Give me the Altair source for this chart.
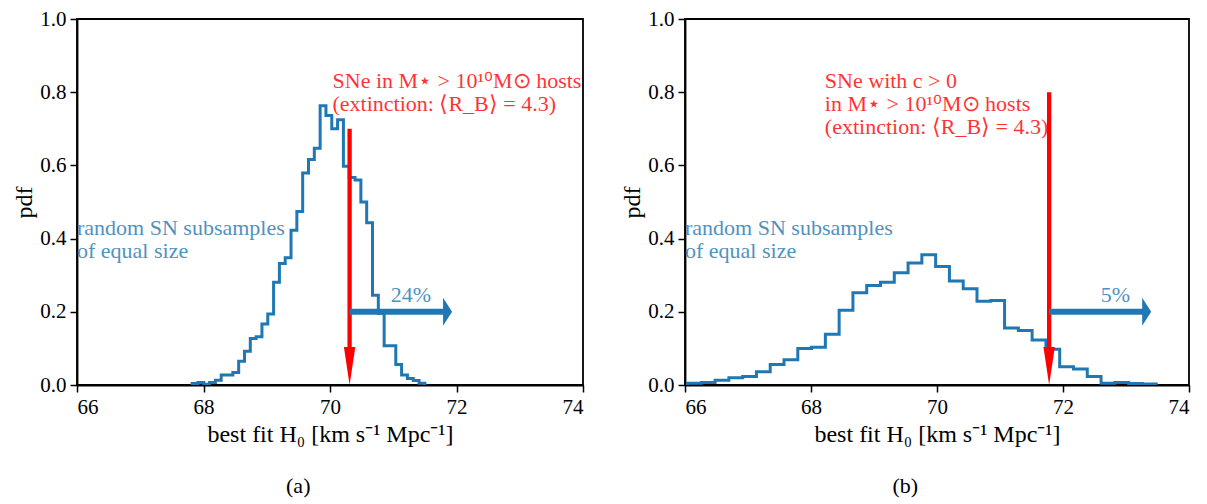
import altair as alt
import pandas as pd

# ---------------- data ----------------
x_ticks = [66, 68, 70, 72, 74]
y_ticks = [0.0, 0.2, 0.4, 0.6, 0.8, 1.0]

# panel (a): histogram of best-fit H0 for random subsamples
a_bin_start = 67.82
a_bin_width = 0.092
a_pdf = [0.004, 0.007, 0.002, 0.007, 0.013,
         0.027, 0.027, 0.034, 0.065, 0.092,
         0.127, 0.132, 0.167, 0.194, 0.281,
         0.332, 0.348, 0.423, 0.474, 0.579,
         0.616, 0.647, 0.763, 0.736, 0.700,
         0.725, 0.598, 0.567, 0.560, 0.500,
         0.443, 0.245, 0.196, 0.107, 0.107,
         0.056, 0.027, 0.018, 0.012, 0.005]
a_h0 = 70.31          # value for the SN subset (red arrow)
a_arrow_top = 0.70
a_frac_y = 0.20
a_frac_end = 71.93
a_frac_text = "24%"
a_frac_text_x = 71.28
a_red_lines = ["SNe in M⋆ > 10¹⁰M⊙ hosts", "(extinction: ⟨R_B⟩ = 4.3)"]
a_red_x = 70.04

# panel (b)
b_bin_start = 66.04
b_bin_width = 0.2188
b_pdf = [0.005, 0.007, 0.013, 0.020, 0.023,
         0.036, 0.056, 0.069, 0.100, 0.103,
         0.139, 0.204, 0.252, 0.272, 0.281,
         0.307, 0.333, 0.356, 0.324, 0.284,
         0.263, 0.229, 0.231, 0.156, 0.149,
         0.123, 0.098, 0.050, 0.044, 0.023,
         0.005, 0.007, 0.004, 0.003]
b_h0 = 71.78
b_arrow_top = 0.80
b_frac_y = 0.20
b_frac_end = 73.40
b_frac_text = "5%"
b_frac_text_x = 72.83
b_red_lines = ["SNe with c > 0", "in M⋆ > 10¹⁰M⊙ hosts", "(extinction: ⟨R_B⟩ = 4.3)"]
b_red_x = 68.22

blue_lines = ["random SN subsamples", "of equal size"]
blue_x = 66.0
blue_y = 0.409
red_y = 0.811
red_head_len = 0.10
blue_head_len = 0.13

FONT = "Liberation Serif"
BLUE = "#1f77b4"
RED = "#ff0000"

xscale = alt.Scale(domain=[66, 74], nice=False, zero=False)
yscale = alt.Scale(domain=[0, 1], nice=False, zero=False)
xax = alt.Axis(values=x_ticks, format="d", title="best fit H₀ [km s⁻¹ Mpc⁻¹]",
               titlePadding=5)
yax = alt.Axis(values=y_ticks, format=".1f", title="pdf", titlePadding=3)

RED_HEAD = "M -0.3 -2 L 0.3 -2 L 0 0 Z"
BLUE_HEAD = "M -2 -3.1 L 0 0 L -2 3.1 Z"


def X(f):
    return alt.X(f, scale=xscale, axis=xax)


def Y(f):
    return alt.Y(f, scale=yscale, axis=yax)


def panel(bin_start, bin_width, pdf, h0, arrow_top, frac_y, frac_end,
          frac_text, frac_text_x, red_lines, red_x, caption, width):
    edges = [bin_start + i * bin_width for i in range(len(pdf) + 1)]
    xs = [edges[0]] + edges[:-1] + [edges[-1]]
    ys = [0.0] + list(pdf) + [0.0]
    hist = pd.DataFrame({"x": xs, "y": ys, "k": list(range(len(xs)))})

    line = alt.Chart(hist).mark_line(
        interpolate="step-after", color=BLUE, strokeWidth=3, clip=True
    ).encode(x=X("x:Q"), y=Y("y:Q"), order="k:Q")

    red_df = pd.DataFrame({"x": [h0], "y": [arrow_top],
                           "base": [red_head_len], "tip": [0.0]})
    red_shaft = alt.Chart(red_df).mark_rule(color=RED, strokeWidth=4.3).encode(
        x=X("x:Q"), y=Y("y:Q"), y2="base:Q")
    red_head = alt.Chart(red_df).mark_point(
        shape=RED_HEAD, filled=True, size=1444, color=RED, opacity=1, strokeWidth=0
    ).encode(x=X("x:Q"), y=Y("tip:Q"))

    blue_df = pd.DataFrame({"x": [h0], "base": [frac_end - blue_head_len],
                            "tip": [frac_end], "y": [frac_y]})
    blue_shaft = alt.Chart(blue_df).mark_rule(color=BLUE, strokeWidth=6).encode(
        x=X("x:Q"), x2="base:Q", y=Y("y:Q"))
    blue_head = alt.Chart(blue_df).mark_point(
        shape=BLUE_HEAD, filled=True, size=81, color=BLUE, opacity=1, strokeWidth=0
    ).encode(x=X("tip:Q"), y=Y("y:Q"))

    frac_df = pd.DataFrame({"x": [frac_text_x], "y": [frac_y + 0.027], "t": [frac_text]})
    frac = alt.Chart(frac_df).mark_text(
        font=FONT, fontSize=22, color=BLUE, opacity=0.8, align="center",
        baseline="alphabetic").encode(x=X("x:Q"), y=Y("y:Q"), text="t:N")

    blue_df2 = pd.DataFrame({"x": [blue_x], "y": [blue_y], "t": ["\n".join(blue_lines)]})
    blue_txt = alt.Chart(blue_df2).mark_text(
        font=FONT, fontSize=22, color=BLUE, opacity=0.8, align="left",
        baseline="alphabetic", lineBreak="\n", lineHeight=22.7
    ).encode(x=X("x:Q"), y=Y("y:Q"), text="t:N")

    red_df2 = pd.DataFrame({"x": [red_x], "y": [red_y], "t": ["\n".join(red_lines)]})
    red_txt = alt.Chart(red_df2).mark_text(
        font=FONT, fontSize=22, color=RED, opacity=0.8, align="left",
        baseline="alphabetic", lineBreak="\n", lineHeight=22.7
    ).encode(x=X("x:Q"), y=Y("y:Q"), text="t:N")

    return alt.layer(line, red_shaft, red_head, blue_shaft, blue_head,
                     frac, blue_txt, red_txt).properties(
        width=width, height=366,
        title=alt.TitleParams(caption, orient="bottom", anchor="middle",
                              frame="bounds", offset=30, font=FONT,
                              fontSize=22, fontWeight="normal", color="black"),
    )


left = panel(a_bin_start, a_bin_width, a_pdf, a_h0, a_arrow_top, a_frac_y,
             a_frac_end, a_frac_text, a_frac_text_x, a_red_lines, a_red_x, "(a)", 506)
right = panel(b_bin_start, b_bin_width, b_pdf, b_h0, b_arrow_top, b_frac_y,
              b_frac_end, b_frac_text, b_frac_text_x, b_red_lines, b_red_x, "(b)", 504)

chart = alt.hconcat(left, right, spacing=34).properties(
    padding={"left": 3, "top": -1, "right": 0, "bottom": 0}
).configure_view(
    stroke="black", strokeWidth=1.8
).configure_axis(
    grid=False, domainColor="black", domainWidth=1.8, tickColor="black",
    tickWidth=1.5, tickSize=7, labelPadding=4, labelFont=FONT, labelFontSize=21,
    labelColor="black", titleFont=FONT, titleFontSize=24, titleFontWeight="normal",
    titleColor="black"
)

chart.save("out.html", embed_options={"renderer": "svg", "actions": False})
